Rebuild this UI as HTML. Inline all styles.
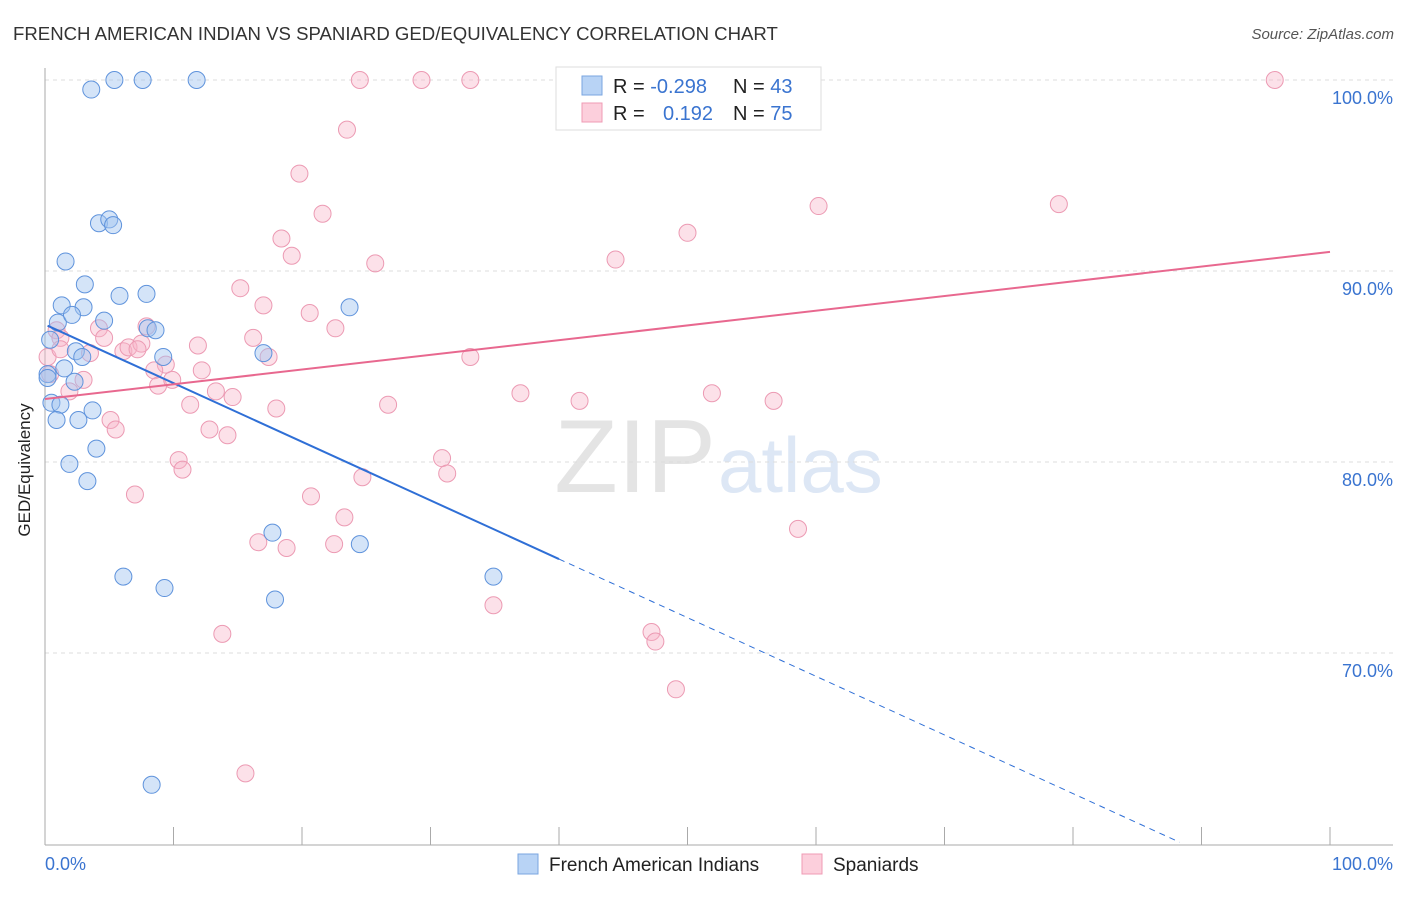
<!DOCTYPE html>
<html><head><meta charset="utf-8"><style>
body{margin:0;background:#fff;font-family:"Liberation Sans",sans-serif}
svg text{font-family:"Liberation Sans",sans-serif}
</style></head><body>
<svg id="c" width="1406" height="892" xmlns="http://www.w3.org/2000/svg">
<text x="13" y="40" font-size="18.6" fill="#333">FRENCH AMERICAN INDIAN VS SPANIARD GED/EQUIVALENCY CORRELATION CHART</text>
<text x="1394" y="39" font-size="15" fill="#555" text-anchor="end" font-style="italic">Source: ZipAtlas.com</text>
<text x="716" y="492" font-size="104" fill="#e4e4e4" text-anchor="end" font-family="Liberation Serif">ZIP</text>
<text x="718" y="492" font-size="78" fill="#dde7f5">atlas</text>
<g id="grid"></g>
<line x1="45" y1="68" x2="45" y2="845" stroke="#aaa"/>
<line x1="45" y1="845" x2="1393" y2="845" stroke="#aaa"/>
<text x="20" y="460" font-size="17" fill="#222" text-anchor="middle" transform="rotate(-90 30 460)">GED/Equivalency</text>
<text x="45" y="870" font-size="18" fill="#3a74d0">0.0%</text>
<text x="1393" y="870" font-size="18" fill="#3a74d0" text-anchor="end">100.0%</text>
<g id="pts"></g>
<g id="lines"></g>
<g>
<rect x="556" y="67" width="265" height="63" fill="#fff" stroke="#ddd"/>
<rect x="582" y="76" width="20" height="19" fill="#b8d3f5" stroke="#7aa6e0"/>
<rect x="582" y="103" width="20" height="19" fill="#fccfdc" stroke="#ef9bb4"/>
<text x="613" y="93" font-size="20" fill="#222">R = <tspan fill="#3a74d0">-0.298</tspan><tspan x="733">N = </tspan><tspan fill="#3a74d0">43</tspan></text>
<text x="613" y="120" font-size="20" fill="#222">R = <tspan x="663" fill="#3a74d0">0.192</tspan><tspan x="733">N = </tspan><tspan fill="#3a74d0">75</tspan></text>
</g>
<g>
<rect x="518" y="854" width="20" height="20" fill="#b8d3f5" stroke="#7aa6e0"/>
<text x="549" y="871" font-size="19" fill="#222">French American Indians</text>
<rect x="802" y="854" width="20" height="20" fill="#fccfdc" stroke="#ef9bb4"/>
<text x="833" y="871" font-size="19" fill="#222">Spaniards</text>
</g>
</svg>
<script>
const yTicks=[100,90,80,70];
const yTickLabels=["100.0%","90.0%","80.0%","70.0%"];
const xTicks=[0,10,20,30,40,50,60,70,80,90,100];
const blueX=[3.6,5.4,7.6,11.8,1.6,4.2,5.0,5.3,3.1,1.3,3.0,5.8,7.9,1.0,2.1,4.6,8.0,8.6,0.4,2.4,2.9,0.2,1.5,2.3,0.5,1.2,0.9,2.6,3.7,4.0,1.9,3.3,17.0,23.7,17.7,24.5,6.1,9.3,17.9,34.9,8.3,0.2,9.2];
const blueY=[99.5,100,100,100,90.5,92.5,92.7,92.4,89.3,88.2,88.1,88.7,88.8,87.3,87.7,87.4,87.0,86.9,86.4,85.8,85.5,84.6,84.9,84.2,83.1,83.0,82.2,82.2,82.7,80.7,79.9,79.0,85.7,88.1,76.3,75.7,74.0,73.4,72.8,74.0,63.1,84.4,85.5];
const pinkX=[24.5,29.3,33.1,40.7,49.4,95.7,23.5,19.8,21.6,60.2,78.9,18.4,19.2,25.7,50.0,44.4,15.2,17.0,20.6,22.6,16.2,11.9,7.9,4.2,4.6,0.9,1.2,0.2,3.5,6.1,6.5,7.5,9.4,8.5,8.8,9.9,12.2,13.3,14.6,11.3,18.0,17.4,33.1,26.7,37.0,41.6,51.9,56.7,5.1,5.5,12.8,14.2,10.4,10.7,30.9,31.3,24.7,7.0,20.7,23.3,16.6,18.8,22.5,58.6,34.9,13.8,47.2,47.5,49.1,15.6,0.4,3.0,1.2,7.2,1.9];
const pinkY=[100,100,100,100,100,100,97.4,95.1,93.0,93.4,93.5,91.7,90.8,90.4,92.0,90.6,89.1,88.2,87.8,87.0,86.5,86.1,87.1,87.0,86.5,86.9,86.5,85.5,85.7,85.8,86.0,86.2,85.1,84.8,84.0,84.3,84.8,83.7,83.4,83.0,82.8,85.5,85.5,83.0,83.6,83.2,83.6,83.2,82.2,81.7,81.7,81.4,80.1,79.6,80.2,79.4,79.2,78.3,78.2,77.1,75.8,75.5,75.7,76.5,72.5,71.0,71.1,70.6,68.1,63.7,84.6,84.3,85.9,85.9,83.7];
const blueTrend=[87.2,56.5];
const pinkTrend=[83.3,91.0];
const NS="http://www.w3.org/2000/svg";
const sx=p=>45+p*12.85;
const sy=v=>80+(100-v)*19.1;
function mk(tag,attrs,parent){const e=document.createElementNS(NS,tag);for(const k in attrs)e.setAttribute(k,attrs[k]);parent.appendChild(e);return e;}
const grid=document.getElementById('grid');
yTicks.forEach((t,i)=>{
 const l=mk('line',{x1:45,x2:1393,y1:sy(t),y2:sy(t),stroke:'#ddd','stroke-dasharray':'4,4'},grid);
 
 
 const tx=mk('text',{x:1393,y:sy(t)+24,'font-size':18,fill:'#3a74d0','text-anchor':'end'},grid);
 tx.textContent=yTickLabels[i];
 
 
});
xTicks.forEach(t=>{
 const l=mk('line',{x1:sx(t),x2:sx(t),y1:827,y2:845,stroke:'#aaa'},grid);
 
 
});
const pts=document.getElementById('pts');
pinkX.forEach((x,i)=>{
 const c=mk('circle',{cx:sx(x),cy:sy(pinkY[i]),r:8.5,fill:'rgba(248,180,200,0.4)',stroke:'#ec9ab3','stroke-width':1},pts);
 
 
});
blueX.forEach((x,i)=>{
 const c=mk('circle',{cx:sx(x),cy:sy(blueY[i]),r:8.5,fill:'rgba(160,195,240,0.45)',stroke:'#5f93dc','stroke-width':1},pts);
 
 
});
const lines=document.getElementById('lines');
const bAt=p=>blueTrend[0]+(blueTrend[1]-blueTrend[0])*p/100;
let l1=mk('line',{x1:sx(0.2),y1:sy(bAt(0.2)),x2:sx(40),y2:sy(bAt(40)),stroke:'#2f6fd6','stroke-width':2},lines);


let l2=mk('line',{x1:sx(40),y1:sy(bAt(40)),x2:sx(88.3),y2:sy(bAt(88.3)),stroke:'#2f6fd6','stroke-width':1,'stroke-dasharray':'6,5'},lines);


let l3=mk('line',{x1:sx(0),y1:sy(pinkTrend[0]),x2:sx(100),y2:sy(pinkTrend[1]),stroke:'#e8688f','stroke-width':2},lines);


</script>
</body></html>
